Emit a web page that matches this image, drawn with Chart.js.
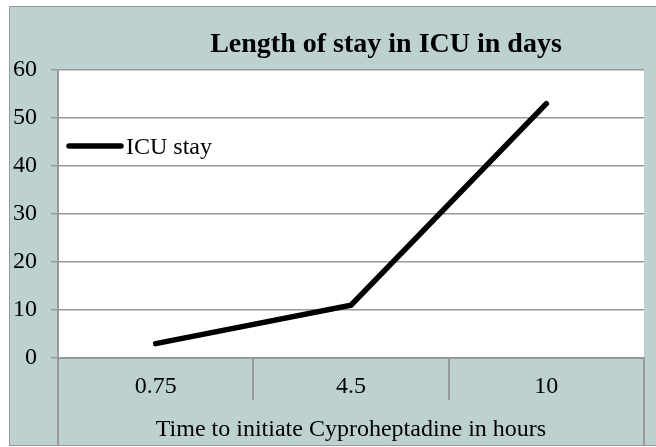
<!DOCTYPE html>
<html>
<head>
<meta charset="utf-8">
<script src="https://cdn.jsdelivr.net/npm/chart.js@4.4.0/dist/chart.umd.min.js"></script>
<style>
  html, body { margin: 0; padding: 0; background: #fff; }
  #wrap { width: 656px; height: 447px; }
</style>
</head>
<body>
<div id="wrap"><canvas id="chart" width="656" height="447"></canvas></div>
<script>
const categories = ['0.75', '4.5', '10']
const icuStay = [3, 11, 53]
const yTicks = [0, 10, 20, 30, 40, 50, 60]

const chartTitle = 'Length of stay in ICU in days'
const xAxisTitle = 'Time to initiate Cyproheptadine in hours'
const seriesLabel = 'ICU stay'

const serif = "'Liberation Serif', 'Times New Roman', serif"
const panelColor = '#bed1d1'
const lineGray = '#999999'

// panel background, frame and white plot area
const backdrop = {
  id: 'backdrop',
  beforeDraw(chart) {
    const { ctx, chartArea: a, width, height } = chart
    ctx.save()
    ctx.fillStyle = '#fff'
    ctx.fillRect(0, 0, width, height)
    ctx.fillStyle = panelColor
    ctx.fillRect(9, 6, width - 9, height - 8)
    ctx.strokeStyle = lineGray
    ctx.lineWidth = 1
    ctx.strokeRect(9.5, 6.5, width + 5, height - 8)
    ctx.fillStyle = '#fff'
    ctx.fillRect(a.left, a.top, a.right - a.left, a.bottom - a.top)
    ctx.restore()
  }
}

// title, inline legend and the long edge lines of the category box
const extras = {
  id: 'extras',
  afterDraw(chart) {
    const { ctx, chartArea: a } = chart
    const x = chart.scales.x
    ctx.save()
    ctx.strokeStyle = lineGray
    ctx.lineWidth = 2
    ctx.beginPath()
    ctx.moveTo(a.left, a.top)
    ctx.lineTo(a.left, x.bottom)
    ctx.moveTo(a.right, a.bottom)
    ctx.lineTo(a.right, x.bottom)
    ctx.stroke()

    ctx.fillStyle = '#000'
    ctx.font = 'bold 28px ' + serif
    ctx.textAlign = 'center'
    ctx.textBaseline = 'alphabetic'
    ctx.fillText(chartTitle, (a.left + a.right) / 2 + 35, 52)

    const ds = chart.data.datasets[0]
    const ly = 146
    ctx.strokeStyle = ds.borderColor
    ctx.lineWidth = ds.borderWidth
    ctx.lineCap = 'round'
    ctx.beginPath()
    ctx.moveTo(a.left + 11, ly)
    ctx.lineTo(a.left + 63, ly)
    ctx.stroke()
    ctx.font = '24px ' + serif
    ctx.textAlign = 'left'
    ctx.fillText(ds.label, a.left + 68, ly + 8)
    ctx.restore()
  }
}

new Chart(document.getElementById('chart'), {
  type: 'line',
  data: {
    labels: categories,
    datasets: [{
      label: seriesLabel,
      data: icuStay,
      borderColor: '#000',
      borderWidth: 5.5,
      borderCapStyle: 'round',
      borderJoinStyle: 'miter',
      pointRadius: 0,
      tension: 0,
      fill: false
    }]
  },
  options: {
    responsive: false,
    animation: false,
    devicePixelRatio: 1,
    layout: { padding: { left: 9, top: 70, right: 12, bottom: 2 } },
    plugins: {
      legend: { display: false },
      title: { display: false },
      tooltip: { enabled: false }
    },
    scales: {
      x: {
        type: 'category',
        offset: true,
        afterFit: (scale) => { scale.height = 87 },
        grid: {
          offset: true,
          drawOnChartArea: false,
          drawTicks: true,
          tickLength: 42,
          color: lineGray,
          lineWidth: 2
        },
        border: { display: true, color: lineGray, width: 2 },
        ticks: {
          color: '#000',
          font: { family: serif, size: 24 },
          padding: -28,
          maxRotation: 0,
          autoSkip: false
        },
        title: {
          display: true,
          text: xAxisTitle,
          color: '#000',
          font: { family: serif, size: 24 },
          padding: { top: 0, bottom: 1 }
        }
      },
      y: {
        min: yTicks[0],
        max: yTicks[yTicks.length - 1],
        afterFit: (scale) => { scale.width = 49 },
        afterBuildTicks: (scale) => { scale.ticks = yTicks.map(v => ({ value: v })) },
        grid: {
          color: lineGray,
          lineWidth: 1.5,
          tickLength: 7
        },
        border: { display: true, color: lineGray, width: 2 },
        ticks: {
          color: '#000',
          font: { family: serif, size: 24 },
          padding: 14
        }
      }
    }
  },
  plugins: [backdrop, extras]
})
</script>
</body>
</html>
